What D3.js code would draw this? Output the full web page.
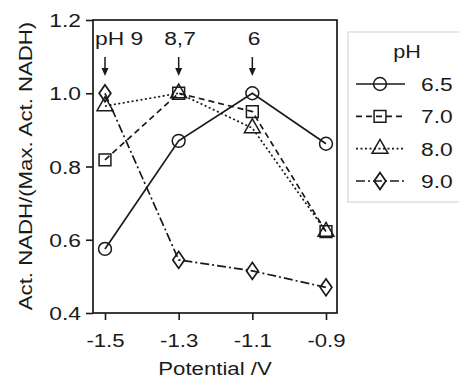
<!DOCTYPE html>
<meta charset="utf-8">
<script src="https://d3js.org/d3.v7.min.js"></script>
<style>
  body { margin: 0; background: #fff; }
  text { font-family: "Liberation Sans", Arial, sans-serif; fill: #1a1a1a; }
</style>
<div id="chart"></div>
<script>

// data
var potentials = [-1.5, -1.3, -1.1, -0.9];
var phLabels = ["6.5", "7.0", "8.0", "9.0"];
var ph65 = [0.575, 0.87, 1.0, 0.862];
var ph70 = [0.818, 1.0, 0.95, 0.622];
var ph80 = [0.965, 1.0, 0.905, 0.622];
var ph90 = [1.0, 0.545, 0.515, 0.47];
var yTicks = [0.4, 0.6, 0.8, 1.0, 1.2];
var arrowNotes = [{x: -1.5, label: "pH 9"}, {x: -1.3, label: "8,7"}, {x: -1.1, label: "6"}];

var seriesValues = [ph65, ph70, ph80, ph90];
var markerTypes = [d3.symbolCircle, d3.symbolSquare, d3.symbolTriangle, d3.symbolDiamond];
var markerSizes = [130, 140, 110, 83];
var dashes = [null, "6,4", "2,2.5", "9,3,2,3"];

var W = 459, H = 378;
var sx = 1.2; // the figure's text is stretched sideways
var ink = "#1a1a1a";

var svg = d3.select("#chart").append("svg")
  .attr("width", W).attr("height", H);

var x = d3.scaleLinear().domain([-1.5, -0.9]).range([105, 326]);
var y = d3.scaleLinear().domain([0.4, 1.2]).range([313, 20]);
var pLeft = 93, pRight = 337, pTop = 20, pBottom = 313;

// hyphen instead of unicode minus, like the original
var fmt = function(d) { return d3.format(".1f")(d).replace("\u2212", "-"); };

// frame
svg.append("rect")
  .attr("x", pLeft).attr("y", pTop)
  .attr("width", pRight - pLeft).attr("height", pBottom - pTop)
  .attr("fill", "none").attr("stroke", ink).attr("stroke-width", 1.7);

// y axis
var gy = svg.append("g")
  .attr("transform", "translate(" + pLeft + ",0)")
  .call(d3.axisLeft(y).tickValues(yTicks).tickFormat(fmt).tickSize(7).tickSizeOuter(0));
gy.select(".domain").remove();
gy.selectAll("line").attr("stroke", ink).attr("stroke-width", 1.6);
gy.selectAll("text")
  .attr("x", 0).attr("dy", "0.35em")
  .attr("transform", "translate(-12,0) scale(" + sx + ",1)")
  .style("font-size", "19px").style("font-family", "Liberation Sans, Arial, sans-serif").attr("fill", ink);

// x axis
var gx = svg.append("g")
  .attr("transform", "translate(0," + pBottom + ")")
  .call(d3.axisBottom(x).tickValues(potentials).tickFormat(fmt).tickSize(7).tickSizeOuter(0));
gx.select(".domain").remove();
gx.selectAll("line").attr("stroke", ink).attr("stroke-width", 1.6);
gx.selectAll("text")
  .attr("y", 0).attr("dy", 0)
  .attr("transform", "translate(0,34) scale(" + sx + ",1)")
  .style("font-size", "18.5px").style("font-family", "Liberation Sans, Arial, sans-serif").attr("fill", ink);

// axis titles
svg.append("text")
  .attr("text-anchor", "middle")
  .attr("transform", "translate(215,375) scale(" + sx + ",1)")
  .style("font-size", "18.5px")
  .text("Potential /V");

svg.append("text")
  .attr("text-anchor", "middle")
  .attr("transform", "translate(32,166) rotate(-90) scale(" + sx + ",1)")
  .style("font-size", "18.5px")
  .text("Act. NADH/(Max. Act. NADH)");

// lines and markers
var line = d3.line()
  .x(function(d, i) { return x(potentials[i]); })
  .y(function(d) { return y(d); });

function markerShape(s) {
  return s == 3 ? " scale(1.2,1)" : "";
}

seriesValues.forEach(function(vals, s) {
  svg.append("path")
    .datum(vals)
    .attr("d", line)
    .attr("fill", "none")
    .attr("stroke", ink)
    .attr("stroke-width", 1.7)
    .attr("stroke-dasharray", dashes[s]);

  svg.selectAll(".m" + s)
    .data(vals)
    .enter().append("path")
    .attr("class", "m" + s)
    .attr("d", d3.symbol().type(markerTypes[s]).size(markerSizes[s]))
    .attr("transform", function(d, i) {
      return "translate(" + x(potentials[i]) + "," + y(d) + ")" + markerShape(s);
    })
    .attr("fill", "none")
    .attr("stroke", ink)
    .attr("stroke-width", 1.5);
});

// arrows with labels
arrowNotes.forEach(function(a) {
  var ax = x(a.x);
  svg.append("line")
    .attr("x1", ax).attr("x2", ax).attr("y1", 57).attr("y2", 70)
    .attr("stroke", ink).attr("stroke-width", 1.5);
  svg.append("path")
    .attr("d", "M" + (ax - 3.5) + ",68 L" + (ax + 3.5) + ",68 L" + ax + ",76 Z")
    .attr("fill", ink);
});
svg.append("text").attr("transform", "translate(95,45) scale(" + sx + ",1)")
  .style("font-size", "19px").text(arrowNotes[0].label);
svg.append("text").attr("text-anchor", "middle").attr("transform", "translate(180,45) scale(" + sx + ",1)")
  .style("font-size", "19px").text(arrowNotes[1].label);
svg.append("text").attr("text-anchor", "middle").attr("transform", "translate(254,45) scale(" + sx + ",1)")
  .style("font-size", "19px").text(arrowNotes[2].label);

// legend
var lg = svg.append("g");
lg.append("rect")
  .attr("x", 348).attr("y", 32).attr("width", 130).attr("height", 170)
  .attr("fill", "#fff").attr("stroke", "#d8d8d8").attr("stroke-width", 1.2);
lg.append("text").attr("text-anchor", "middle")
  .attr("transform", "translate(407,58) scale(" + sx + ",1)")
  .style("font-size", "18px").text("pH");

var legendY = d3.scalePoint().domain(phLabels).range([84, 181]);
phLabels.forEach(function(lab, s) {
  var ly = legendY(lab);
  lg.append("line")
    .attr("x1", 356).attr("x2", 405).attr("y1", ly).attr("y2", ly)
    .attr("stroke", ink).attr("stroke-width", 1.7)
    .attr("stroke-dasharray", dashes[s]);
  lg.append("path")
    .attr("d", d3.symbol().type(markerTypes[s]).size(markerSizes[s]))
    .attr("transform", "translate(380," + ly + ")" + markerShape(s))
    .attr("fill", "none").attr("stroke", ink).attr("stroke-width", 1.5);
  lg.append("text")
    .attr("transform", "translate(421," + (ly + 7) + ") scale(" + sx + ",1)")
    .style("font-size", "19px").text(lab);
});

</script>
